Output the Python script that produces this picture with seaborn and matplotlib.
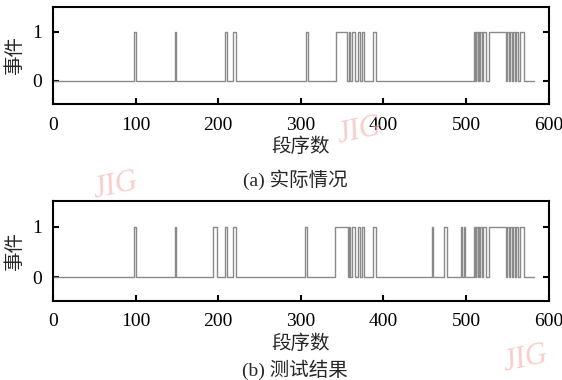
import numpy as np
import pandas as pd
import matplotlib
matplotlib.use("Agg")
import matplotlib.pyplot as plt
import seaborn as sns

# Datos: inicio y fin de cada evento (segmento)
inicio_a = [98, 147.5, 208, 218, 306, 342, 358, 362, 369, 374, 387,
            509, 512, 515, 517, 520, 528, 550, 553, 557, 561, 565]
fin_a = [101, 148.5, 211, 221, 309, 356, 360, 365, 372, 377, 391,
         511, 514, 516, 519, 524, 548, 552, 555, 559, 563, 570]

inicio_b = [98, 147.5, 194, 208, 218, 305, 341, 358, 362, 369, 374, 387,
            459, 473, 494, 497.5, 509, 512, 515, 517, 520, 528, 550, 553, 557, 561, 565]
fin_b = [101, 148.5, 198, 211, 221, 308, 357, 360, 365, 372, 377, 391,
         459.6, 477, 494.6, 498.5, 511, 514, 516, 519, 524, 548, 552, 555, 559, 563, 570]

n_segmentos = 582
xticks = [0, 100, 200, 300, 400, 500, 600]
yticks = [0, 1]
titulos = ["(a) 实际情况", "(b) 测试结果"]


def serie_escalon(inicios, fines, total):
    x = [0]
    y = [0]
    for s, e in zip(inicios, fines):
        x += [s, e]
        y += [1, 0]
    x.append(total)
    y.append(0)
    return pd.DataFrame({"segmento": x, "evento": y})


sns.set_theme(style="ticks")
plt.rcParams["font.family"] = ["Liberation Serif", "Noto Sans CJK SC"]
plt.rcParams["font.size"] = 14

fig = plt.figure(figsize=(5.62, 3.8), dpi=100)
ax_a = fig.add_axes([0.0943, 0.726, 0.882, 0.256])
ax_b = fig.add_axes([0.0943, 0.208, 0.882, 0.262])

for ax, ini, fin in [(ax_a, inicio_a, fin_a), (ax_b, inicio_b, fin_b)]:
    df = serie_escalon(ini, fin, n_segmentos)
    sns.lineplot(data=df, x="segmento", y="evento", drawstyle="steps-post",
                 color="#8a8a8a", linewidth=1.0, ax=ax, estimator=None, sort=False)
    ax.set_xlim(0, 600)
    ax.set_ylim(-0.47, 1.5)
    ax.set_xticks(xticks)
    ax.set_yticks(yticks)
    ax.tick_params(direction="in", length=4, width=1.5, right=True, top=False,
                   labelsize=14, colors="black")
    ax.tick_params(axis="x", pad=9)
    ax.tick_params(axis="y", pad=8)
    for sp in ax.spines.values():
        sp.set_linewidth(1.5)
        sp.set_color("black")
    ax.set_xlabel("段序数", fontsize=14, labelpad=3)
    ax.set_ylabel("事件", fontsize=14, labelpad=6)

fig.text(0.525, 0.527, titulos[0], ha="center", va="center", fontsize=14)
fig.text(0.525, 0.026, titulos[1], ha="center", va="center", fontsize=14)

# marcas de agua
for (x, y, rot) in [(0.205, 0.51, 12), (0.64, 0.655, 12), (0.935, 0.055, 12)]:
    fig.text(x, y, "JIG", color="#f6b8b8", alpha=0.7, fontsize=22, style="italic",
             rotation=rot, ha="center", va="center", family="Liberation Serif")

fig.savefig("out.png", dpi=100)
